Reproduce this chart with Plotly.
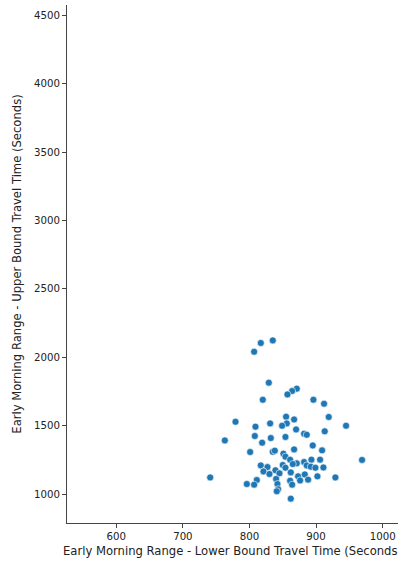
import plotly.graph_objects as go

# Early-morning travel time bounds (seconds) for each route segment
lower_bound = [
    835, 817, 807, 829, 871, 864, 857, 820, 896, 912,
    919, 855, 779, 867, 831, 856, 849, 945, 809, 870,
    913, 882, 886, 808, 854, 832, 763, 819, 895, 867,
    909, 801, 835, 838, 851, 854, 969, 861, 871, 882,
    893, 906, 817, 827, 850, 865, 886, 892, 899, 911,
    821, 839, 854, 862, 873, 883, 830, 845, 840, 902,
    929, 741, 811, 861, 876, 888, 796, 807, 842, 864,
    843, 841, 862,
]
upper_bound = [
    2123, 2104, 2040, 1814, 1770, 1753, 1728, 1689, 1689, 1660,
    1563, 1565, 1528, 1545, 1516, 1516, 1499, 1499, 1492, 1472,
    1458, 1441, 1433, 1424, 1417, 1409, 1392, 1375, 1355, 1326,
    1319, 1307, 1309, 1317, 1295, 1273, 1249, 1251, 1224, 1234,
    1251, 1251, 1209, 1197, 1212, 1219, 1209, 1200, 1192, 1194,
    1165, 1173, 1192, 1158, 1129, 1143, 1146, 1151, 1110, 1129,
    1121, 1121, 1102, 1097, 1099, 1105, 1073, 1068, 1073, 1068,
    1035, 1020, 966,
]

x_ticks = [600, 700, 800, 900, 1000]
y_ticks = [1000, 1500, 2000, 2500, 3000, 3500, 4000, 4500]

x_title = "Early Morning Range - Lower Bound Travel Time (Seconds)"
y_title = "Early Morning Range - Upper Bound Travel Time (Seconds)"

title_font = dict(family="DejaVu Sans", size=11.6, color="#222222")

fig = go.Figure(
    go.Scatter(
        x=lower_bound,
        y=upper_bound,
        mode="markers",
        marker=dict(color="#1f77b4", size=7, line=dict(color="white", width=0.6)),
        hoverinfo="x+y",
    )
)

axis_common = dict(
    showgrid=False,
    zeroline=False,
    showline=True,
    linecolor="#444444",
    linewidth=1,
    ticks="outside",
    ticklen=4,
    tickwidth=1,
    tickcolor="#444444",
    tickfont=dict(family="DejaVu Sans", size=10.2, color="#222222"),
)

fig.update_xaxes(
    range=[526, 1023],
    tickvals=x_ticks,
    title=dict(text=x_title, font=title_font, standoff=5),
    **axis_common,
)
fig.update_yaxes(
    range=[788, 4575],
    tickvals=y_ticks,
    title=dict(text=y_title, font=title_font, standoff=9),
    **axis_common,
)

fig.update_layout(
    width=398,
    height=563,
    margin=dict(l=67, r=0, t=5, b=40),
    paper_bgcolor="white",
    plot_bgcolor="white",
    showlegend=False,
)

fig.write_html("out.html")
